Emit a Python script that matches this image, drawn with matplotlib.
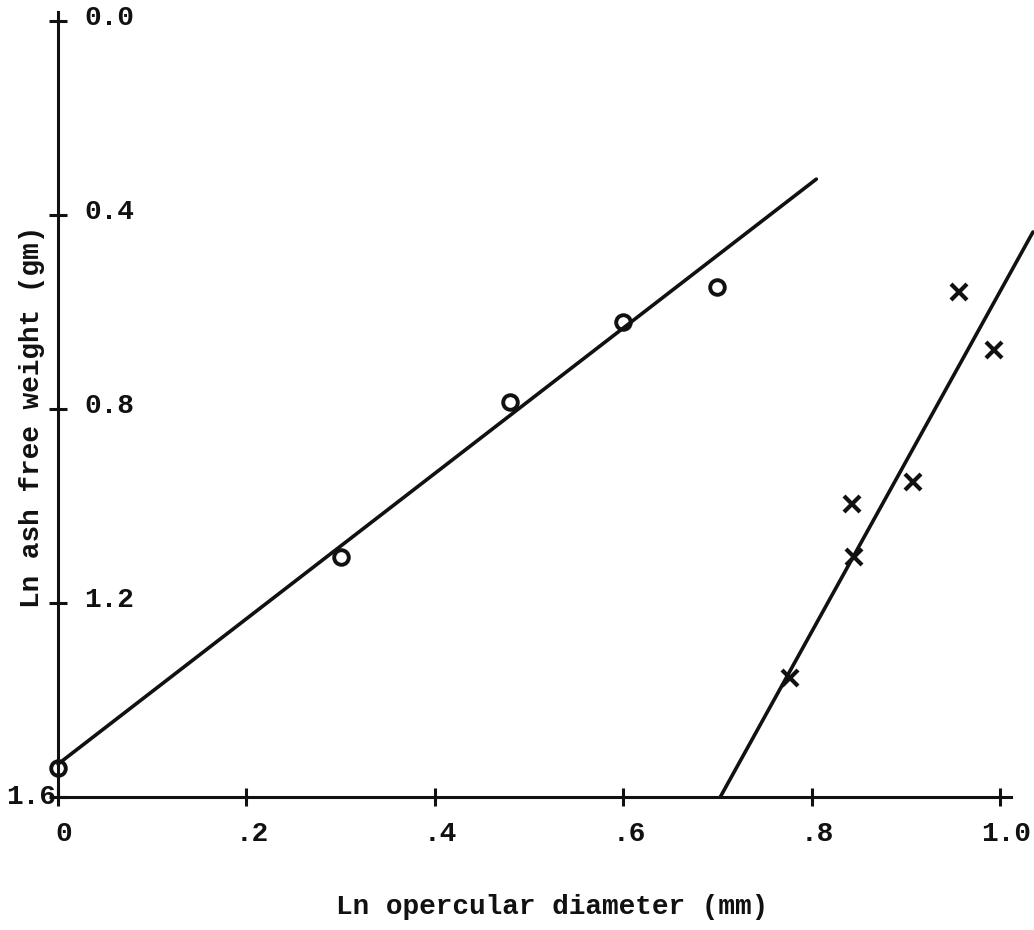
import matplotlib.pyplot as plt

# Ln opercular diameter (mm) vs Ln ash free weight (gm)
circle_x = [0.0, 0.30, 0.48, 0.60, 0.70]
circle_y = [1.54, 1.105, 0.786, 0.621, 0.548]

cross_x = [0.777, 0.845, 0.843, 0.908, 0.957, 0.994]
cross_y = [1.355, 1.105, 0.996, 0.951, 0.559, 0.678]

# regression lines, given by their end points
fit_circle_x = [0.0, 0.805]
fit_circle_y = [1.532, 0.326]
fit_cross_x = [0.703, 1.035]
fit_cross_y = [1.6, 0.435]

x_ticks = [0.0, 0.2, 0.4, 0.6, 0.8, 1.0]
x_tick_labels = ['0', '.2', '.4', '.6', '.8', '1.0']
y_ticks = [0.0, 0.4, 0.8, 1.2, 1.6]
y_tick_labels = ['0.0', '0.4', '0.8', '1.2', '1.6']

plt.rcParams['font.family'] = ['Liberation Mono', 'DejaVu Sans Mono']
plt.rcParams['font.weight'] = 'bold'

fig = plt.figure(figsize=(10.34, 9.3), dpi=100)
ax = fig.add_axes([0, 0, 1, 1])
ax.set_xlim(-0.0616, 1.0361)
ax.set_ylim(1.874, -0.0433)

ink = '#111111'

ax.plot(fit_circle_x, fit_circle_y, color=ink, lw=2.6, solid_capstyle='round')
ax.plot(fit_cross_x, fit_cross_y, color=ink, lw=2.6, solid_capstyle='round')
ax.plot(circle_x, circle_y, 'o', ms=10.5, mfc='none', mec=ink, mew=2.8)
ax.plot(cross_x, cross_y, 'x', ms=12, mec=ink, mew=3)

# axes drawn through the origin like a hand-ruled graph
for side in ['top', 'right']:
    ax.spines[side].set_visible(False)
ax.spines['left'].set_position(('data', 0.0))
ax.spines['bottom'].set_position(('data', 1.6))
ax.spines['left'].set_bounds(-0.018, 1.6)
ax.spines['bottom'].set_bounds(0.0, 1.012)
for side in ['left', 'bottom']:
    ax.spines[side].set_linewidth(2.2)
    ax.spines[side].set_color(ink)

ax.set_xticks(x_ticks)
ax.set_yticks(y_ticks)
ax.tick_params(direction='inout', length=13, width=2.2, color=ink,
               labelbottom=False, labelleft=False)

for xv, lab in zip(x_ticks, x_tick_labels):
    ax.text(xv + 0.006, 1.6 + 0.077, lab, ha='center', va='center',
            fontsize=20, color=ink)
for yv, lab in zip(y_ticks, y_tick_labels):
    if yv == 1.6:
        ax.text(-0.002, yv, lab, ha='right', va='center', fontsize=20, color=ink)
    else:
        ax.text(0.028, yv - 0.006, lab, ha='left', va='center', fontsize=20, color=ink)

ax.text(0.525, 1.826, 'Ln opercular diameter (mm)', ha='center', va='center',
        fontsize=20, color=ink)
ax.text(-0.028, 0.815, 'Ln ash free weight (gm)', ha='center', va='center',
        rotation=90, fontsize=20, color=ink)

fig.savefig('out.png', dpi=100)
